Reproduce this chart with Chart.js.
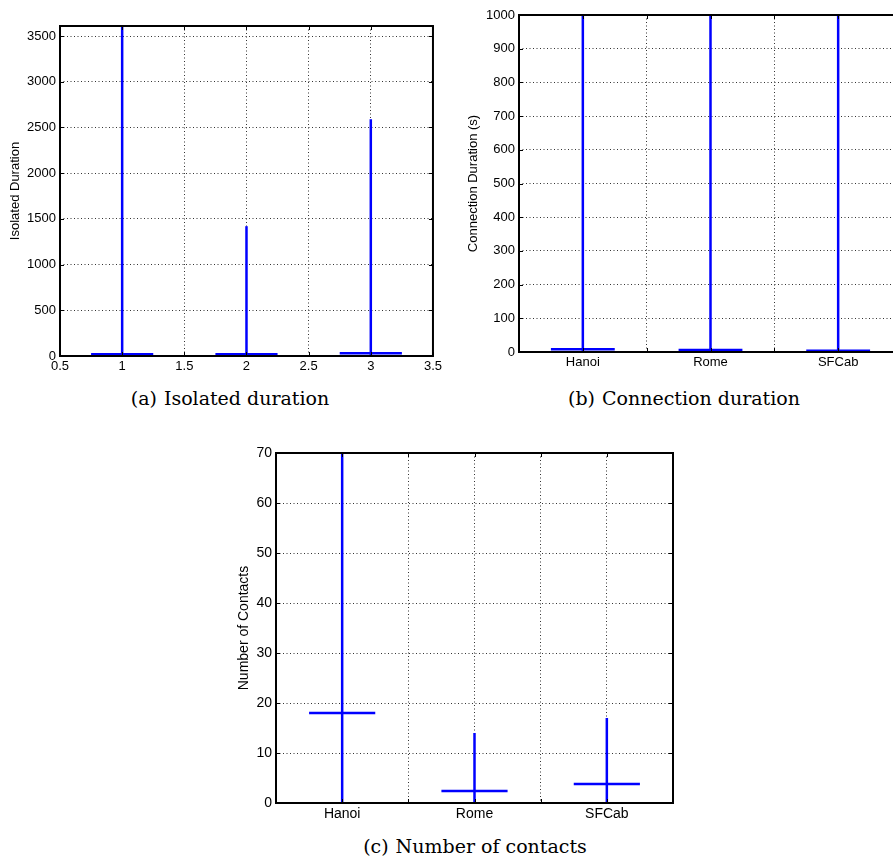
<!DOCTYPE html>
<html>
<head>
<meta charset="utf-8">
<script src="https://cdn.jsdelivr.net/npm/chart.js@4.4.1/dist/chart.umd.min.js"></script>
<style>
    html, body { margin: 0; padding: 0; background: #fff; overflow: hidden; width: 893px; height: 863px; }
    canvas { position: absolute; }
    .cap { position: absolute; font-family: 'DejaVu Serif', serif; font-size: 19px; line-height: 19px; color: #000; white-space: nowrap; transform: translateX(-50%); }
    .cap span { margin-right: 7px; }
</style>
</head>
<body>
<canvas id="chartA" width="445" height="375" style="left:0;top:0"></canvas>
<canvas id="chartB" width="460" height="375" style="left:450px;top:0"></canvas>
<canvas id="chartC" width="475" height="395" style="left:210px;top:430px"></canvas>
<div class="cap" style="left:230px;top:389px"><span>(a)</span>Isolated duration</div>
<div class="cap" style="left:684px;top:389px"><span>(b)</span>Connection duration</div>
<div class="cap" style="left:475px;top:837px"><span>(c)</span>Number of contacts</div>
<script>
// (a) Isolated duration
const xTicksA = [0.5, 1, 1.5, 2, 2.5, 3, 3.5];
const yTicksA = [0, 500, 1000, 1500, 2000, 2500, 3000, 3500];
const lowA = [0, 0, 0];
const highA = [3600, 1420, 2590];
const medianA = [18, 18, 30];

// (b) Connection duration
const citiesB = ['Hanoi', 'Rome', 'SFCab'];
const yTicksB = [0, 100, 200, 300, 400, 500, 600, 700, 800, 900, 1000];
const lowB = [0, 0, 0];
const highB = [1000, 1000, 1000];
const medianB = [8, 6, 4];

// (c) Number of contacts
const citiesC = ['Hanoi', 'Rome', 'SFCab'];
const yTicksC = [0, 10, 20, 30, 40, 50, 60, 70];
const lowC = [0, 0, 0];
const highC = [70, 14, 17];
const medianC = [18, 2.4, 3.8];

const gridTicksX = [0.5, 1, 1.5, 2, 2.5, 3, 3.5];

// whisker + median line per group
function buildSets(low, high, median) {
    const sets = [];
    low.forEach((lo, i) => {
        const x = i + 1;
        sets.push({ data: [{ x: x, y: lo }, { x: x, y: high[i] }] });
        sets.push({ data: [{ x: x - 0.25, y: median[i] }, { x: x + 0.25, y: median[i] }] });
    });
    sets.forEach(s => {
        s.showLine = true;
        s.borderColor = '#0000ff';
        s.borderWidth = 2.5;
        s.pointRadius = 0;
        s.pointHoverRadius = 0;
    });
    return sets;
}

// matlab style box with inner ticks
const framePlugin = {
    id: 'frame',
    afterDatasetsDraw(chart) {
        const { ctx, chartArea: a, scales } = chart;
        ctx.save();
        ctx.strokeStyle = '#000';
        ctx.lineWidth = 1;
        ctx.beginPath();
        scales.x.ticks.forEach(t => {
            const px = Math.round(scales.x.getPixelForValue(t.value)) + 0.5;
            ctx.moveTo(px, a.bottom); ctx.lineTo(px, a.bottom - 4);
            ctx.moveTo(px, a.top); ctx.lineTo(px, a.top + 4);
        });
        scales.y.ticks.forEach(t => {
            const py = Math.round(scales.y.getPixelForValue(t.value)) + 0.5;
            ctx.moveTo(a.left, py); ctx.lineTo(a.left + 4, py);
            ctx.moveTo(a.right, py); ctx.lineTo(a.right - 4, py);
        });
        ctx.stroke();
        ctx.lineWidth = 2;
        ctx.strokeRect(a.left, a.top, a.right - a.left, a.bottom - a.top);
        ctx.restore();
    }
};

function makeChart(id, cfg) {
    const font = { family: "'Liberation Sans', Arial, sans-serif", size: cfg.fontSize };
    return new Chart(document.getElementById(id), {
        type: 'scatter',
        data: { datasets: buildSets(cfg.low, cfg.high, cfg.median) },
        options: {
            responsive: false,
            animation: false,
            layout: { padding: { top: cfg.padTop, right: cfg.padRight, left: 0, bottom: 0 } },
            plugins: { legend: { display: false }, tooltip: { enabled: false } },
            scales: {
                x: {
                    type: 'linear',
                    min: 0.5,
                    max: 3.5,
                    afterBuildTicks: scale => { scale.ticks = cfg.xTicks.map(v => ({ value: v })); },
                    afterFit: scale => { scale.height = cfg.xHeight; },
                    grid: { color: '#333', lineWidth: 1, drawTicks: false },
                    border: { display: false, dash: [1, 2.5] },
                    ticks: {
                        color: '#000',
                        font: font,
                        padding: 3,
                        maxRotation: 0,
                        autoSkip: false,
                        callback: cfg.xLabel
                    }
                },
                y: {
                    min: 0,
                    max: cfg.yMax,
                    afterBuildTicks: scale => { scale.ticks = cfg.yTicks.map(v => ({ value: v })); },
                    afterFit: scale => { scale.width = cfg.yWidth; },
                    grid: { color: '#333', lineWidth: 1, drawTicks: false },
                    border: { display: false, dash: [1, 2.5] },
                    ticks: { color: '#000', font: font, padding: 4, callback: v => String(v) },
                    title: {
                        display: true,
                        text: cfg.yTitle,
                        color: '#000',
                        font: font,
                        padding: { top: cfg.titlePad, bottom: 0 }
                    }
                }
            }
        },
        plugins: [framePlugin]
    });
}

document.addEventListener('DOMContentLoaded', () => {
    makeChart('chartA', {
        low: lowA, high: highA, median: medianA,
        xTicks: xTicksA, yTicks: yTicksA, yMax: 3610,
        xLabel: v => String(v),
        yTitle: 'Isolated Duration',
        fontSize: 13, padTop: 26, padRight: 10, xHeight: 19, yWidth: 60, titlePad: 8
    });

    makeChart('chartB', {
        low: lowB, high: highB, median: medianB,
        xTicks: gridTicksX, yTicks: yTicksB, yMax: 1000,
        xLabel: v => Number.isInteger(v) ? citiesB[v - 1] : '',
        yTitle: 'Connection Duration (s)',
        fontSize: 13, padTop: 15, padRight: 8, xHeight: 23, yWidth: 69, titlePad: 16
    });

    makeChart('chartC', {
        low: lowC, high: highC, median: medianC,
        xTicks: gridTicksX, yTicks: yTicksC, yMax: 70,
        xLabel: v => Number.isInteger(v) ? citiesC[v - 1] : '',
        yTitle: 'Number of Contacts',
        fontSize: 14, padTop: 23, padRight: 12, xHeight: 22, yWidth: 66, titlePad: 26
    });
});
</script>
</body>
</html>
